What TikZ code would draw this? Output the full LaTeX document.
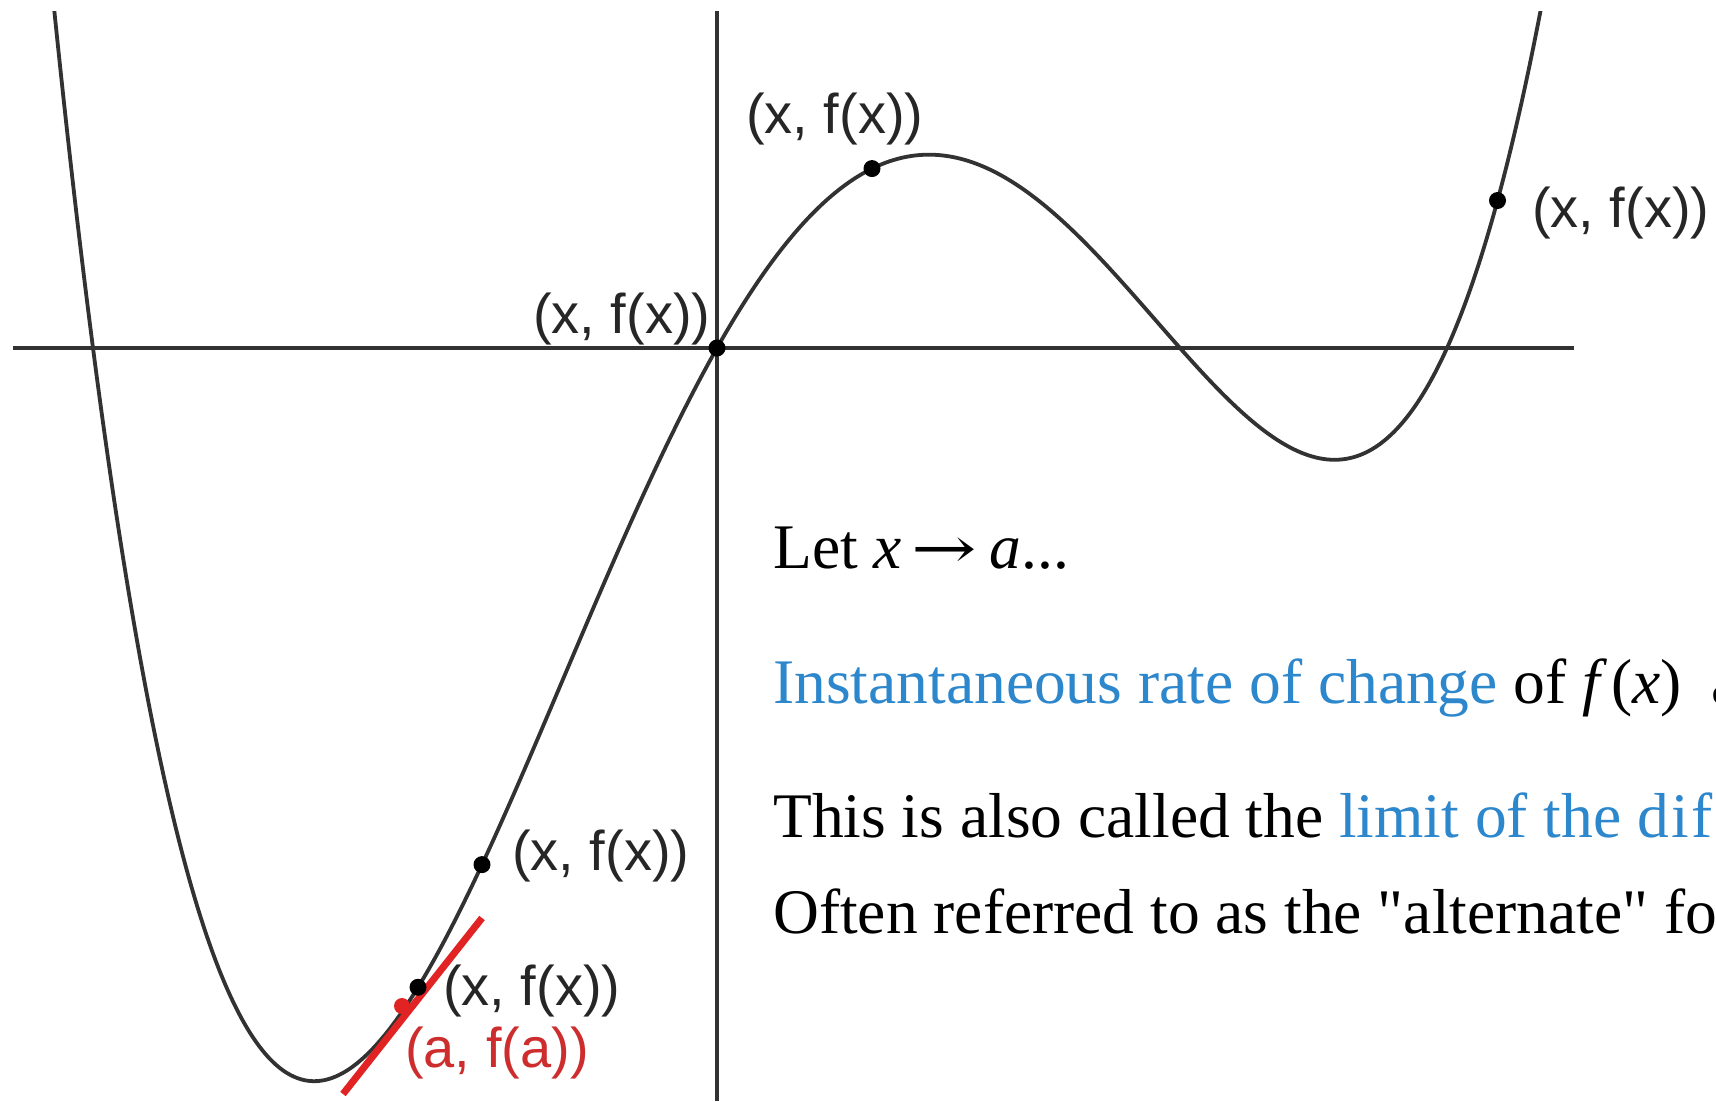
\documentclass[tikz,border=0pt]{standalone}
\usepackage{fontspec}
\usepackage{graphicx}
\setmainfont{Liberation Serif}
\newfontfamily\rawserif[Ligatures=Common]{Liberation Serif}
\newfontfamily\labfont{Liberation Sans}
\newfontfamily\arrowfont{DejaVu Serif}
\definecolor{axisgray}{RGB}{50,50,50}
\definecolor{linkblue}{RGB}{45,135,205}
\definecolor{tanred}{RGB}{225,35,35}
\definecolor{labred}{RGB}{205,45,45}
\begin{document}
\begin{tikzpicture}[x=1pt,y=-1pt,
  declare function={fy(\x)=348-0.839*(\x+6.24)*\x*(\x-4.63)*(\x-7.30);},
  axisline/.style={draw=axisgray, line width=3.3pt},
  curveline/.style={draw=axisgray, line width=3.8pt},
  dotnode/.style={circle, fill=black, inner sep=0pt, minimum size=17pt},
  reddot/.style={circle, fill=tanred, inner sep=0pt, minimum size=16pt},
  tangentline/.style={draw=tanred, line width=7pt},
  ptlabel/.style={font=\labfont\fontsize{56}{60}\selectfont, inner sep=0pt, anchor=base west, text=black!85},
  bodytext/.style={font=\fontsize{63.5}{70}\selectfont, inner sep=0pt, anchor=base west},
]
\useasboundingbox (0,0) rectangle (1716,1101);
\fill[white] (0,0) rectangle (1716,1101);
\clip (0,0) rectangle (1716,1101);

% axes
\coordinate (xl) at (13,348);
\coordinate (xr) at (1574,348);
\coordinate (yt) at (717,11);
\coordinate (yb) at (717,1101);
\draw[axisline] (xl) -- (xr);
\draw[axisline] (yt) -- (yb);

% curve
\begin{scope}
\clip (0,11) rectangle (1716,1101);
\draw[curveline] plot[domain=-6.66:8.27, samples=400, smooth, variable=\x] ({717+100*\x},{fy(\x)});
\end{scope}

% red point and tangent line
\node[reddot] (pa) at (402,1006) {};
\coordinate (ta) at (343,1094);
\coordinate (tb) at (482,918);
\draw[tangentline] (ta) -- (tb);

% points on the curve
\node[dotnode] (p0) at (717,348) {};
\node[dotnode] (p1) at ({717+100*1.55},{fy(1.55)}) {};
\node[dotnode] (p2) at ({717+100*7.805},{fy(7.805)}) {};
\node[dotnode] (p3) at ({717+100*(-2.35)},{fy(-2.35)}) {};
\node[dotnode] (p4) at ({717+100*(-2.99)},{fy(-2.99)}) {};

% point labels
\node[ptlabel] (l0) at (533,333) {(x, f(x))};
\node[ptlabel] (l1) at (746,133) {(x, f(x))};
\node[ptlabel] (l2) at (1532,227) {(x, f(x))};
\node[ptlabel] (l3) at (512,870) {(x, f(x))};
\node[ptlabel] (l4) at (443,1005) {(x, f(x))};
\node[ptlabel, text=labred] (la) at (405,1067) {(a, f(a))};

% body text
\node[bodytext] (t1) at (773,568) {Let \textit{x}\kern0.15em\scalebox{1.35}[1]{\arrowfont\fontsize{58}{70}\selectfont →}\kern0.2em\textit{a}...};
\node[bodytext] (t2) at (773,703) {{\color{linkblue}Instantaneous rate of change} of \textit{f}\kern0.06em(\textit{x})\hspace{14pt} a};
\node[bodytext] (t3) at (773,837) {This is also called the {\color{linkblue}limit of the d\kern0.04em i\kern0.04em f\kern0.08em f}};
\node[bodytext] (t4) at (773,933) {Often referred to as the {\rawserif"alternate"} fo};
\end{tikzpicture}
\end{document}
